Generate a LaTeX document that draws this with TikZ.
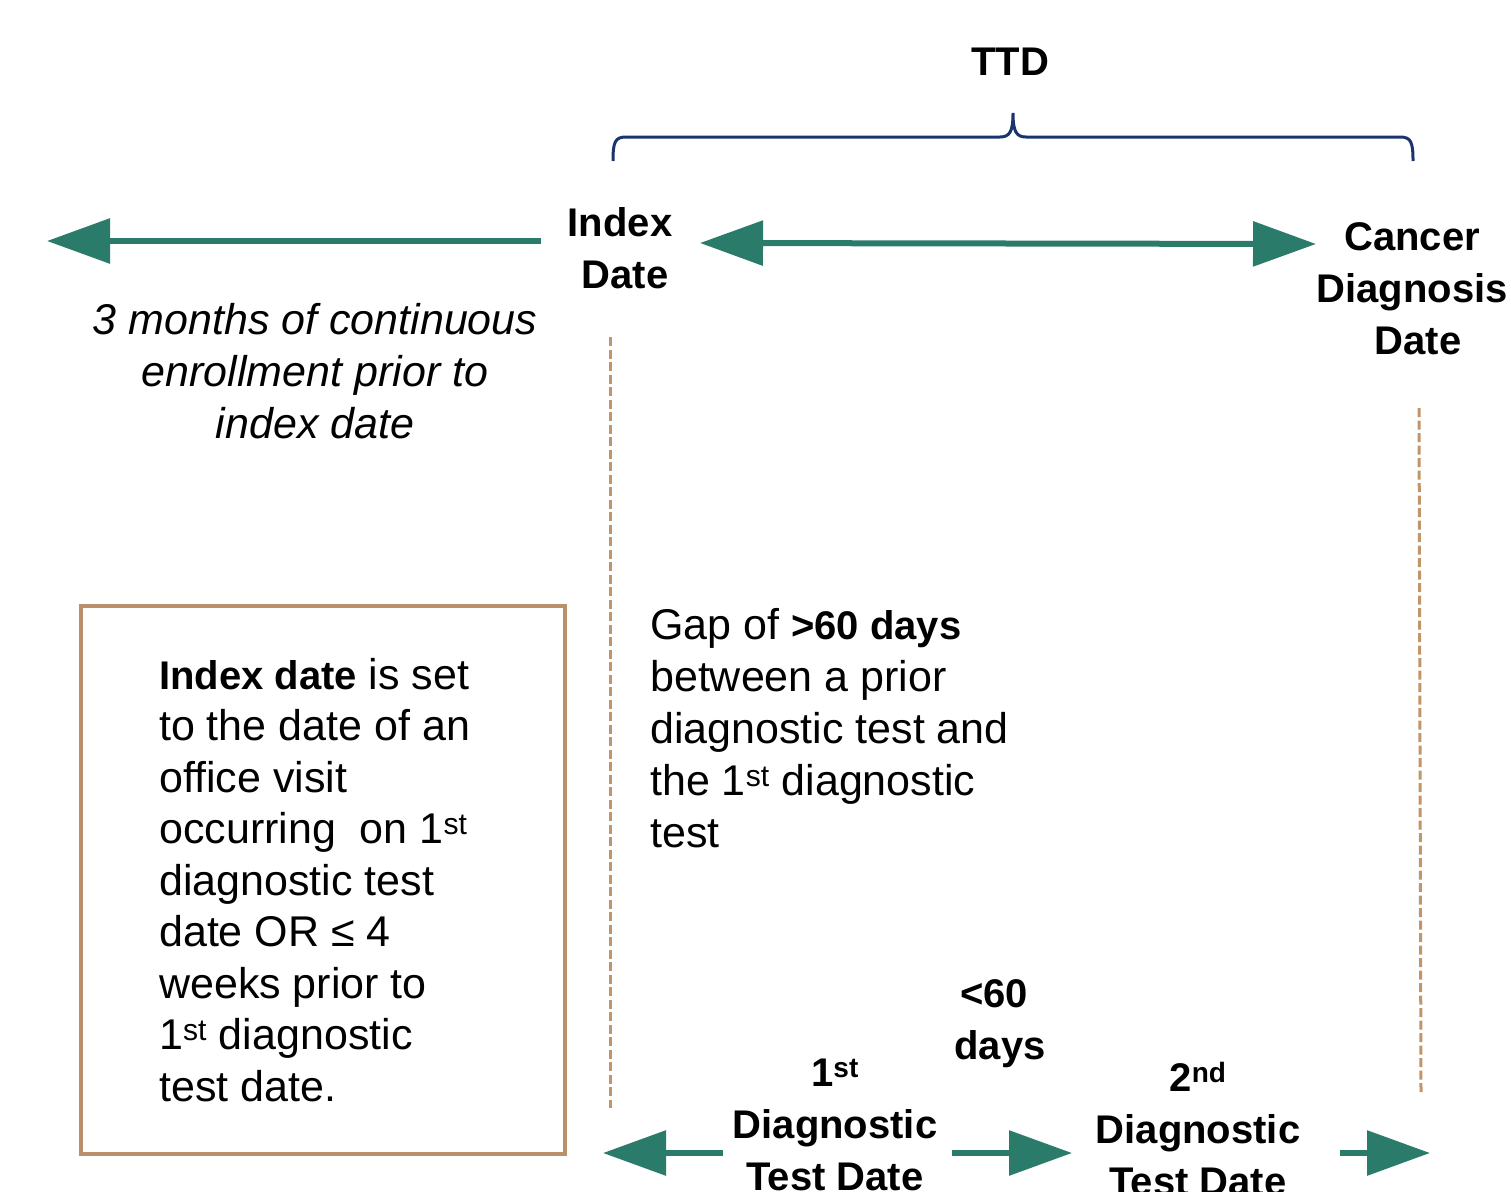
\documentclass[tikz,border=0pt]{standalone}
\usepackage{fontspec}
\setmainfont{Liberation Sans}
\usetikzlibrary{arrows.meta}
\definecolor{arrgreen}{HTML}{2A7B69}
\definecolor{boxbrown}{HTML}{B8916A}
\definecolor{dashbrown}{HTML}{C0956A}
\definecolor{bracenavy}{HTML}{1A3470}
\begin{document}
\begin{tikzpicture}[x=1pt,y=-1pt,
  txt/.style={inner sep=0pt,font=\fontsize{43}{52}\selectfont},
  btxt/.style={txt,font=\fontsize{40}{52}\selectfont\bfseries},
  garrow/.style={draw=arrgreen,line width=6pt,-{Triangle[length=63pt,width=44pt]}},
  gdarrow/.style={draw=arrgreen,line width=6pt,{Triangle[length=63pt,width=44pt]}-{Triangle[length=63pt,width=44pt]}},
  dline/.style={draw=dashbrown,line width=3pt,dash pattern=on 9pt off 3.5pt},
  bracepath/.style={draw=bracenavy,line width=3pt}]
\useasboundingbox (0,0) rectangle (1511,1191);
% texts
\node[btxt] (ttd) at (1010,62) {TTD};
\node[btxt,align=center] (index) at (620,248) {Index\\\hspace*{10pt}Date};
\node[btxt,align=center] (cancer) at (1412,289) {Cancer\\Diagnosis\\\hspace*{12pt}Date};
\node[txt,align=center,font=\fontsize{43}{52}\selectfont\itshape] (enroll) at (315,371) {3 months of continuous\\enrollment prior to\\index date};
\node[txt,align=left,anchor=west] (gap) at (650,728) {Gap of \textbf{\fontsize{40}{52}\selectfont>60 days}\\between a prior\\diagnostic test and\\the 1\textsuperscript{st} diagnostic\\test};
\node[btxt,align=center] (lt60) at (1000,1024) {<60\hspace*{12pt}\\days};
\node[btxt,align=center] (first) at (835,1125) {1\textsuperscript{st}\\Diagnostic\\Test Date};
\node[btxt,align=center] (second) at (1198,1129) {2\textsuperscript{nd}\\Diagnostic\\Test Date};
% box
\draw[boxbrown,line width=3.5pt] (81,606) rectangle (565,1154);
\node[txt,align=left,anchor=west,font=\fontsize{43}{51.5}\selectfont] (boxtext) at (159,880) {\textbf{\fontsize{40}{51.5}\selectfont Index date} is set\\to the date of an\\office visit\\occurring\ \ on 1\textsuperscript{st}\\diagnostic test\\date OR ≤ 4\\weeks prior to\\1\textsuperscript{st} diagnostic\\test date.};
% coordinates
\coordinate (a1s) at (541,241);
\coordinate (a1e) at (47,241);
\coordinate (a2s) at (700,243);
\coordinate (a2e) at (1316,244);
\coordinate (b1s) at (723,1153);
\coordinate (b1e) at (603,1153);
\coordinate (b2s) at (952,1153);
\coordinate (b2e) at (1072,1153);
\coordinate (b3s) at (1340,1153);
\coordinate (b3e) at (1430,1153);
\coordinate (d1s) at (610,337);
\coordinate (d1e) at (610,1108);
\coordinate (d2s) at (1419,408);
\coordinate (d2e) at (1421,1095);
% arrows
\draw[garrow] (a1s) -- (a1e);
\draw[gdarrow] (a2s) -- (a2e);
\draw[garrow] (b1s) -- (b1e);
\draw[garrow] (b2s) -- (b2e);
\draw[garrow] (b3s) -- (b3e);
% dashed
\draw[dline] (d1s) -- (d1e);
\draw[dline] (d2s) -- (d2e);
% brace
\draw[bracepath] (613,161) .. controls (613,142) and (615,137) .. (626,137) -- (1000,137) .. controls (1010,137) and (1013,131) .. (1013,113) .. controls (1013,131) and (1016,137) .. (1026,137) -- (1400,137) .. controls (1411,137) and (1413,142) .. (1413,161);
\end{tikzpicture}
\end{document}
